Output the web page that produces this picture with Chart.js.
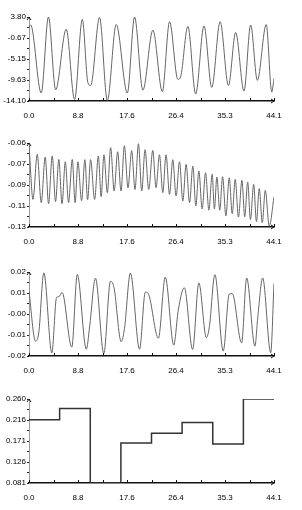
<!DOCTYPE html>
<html lang="en">
<head>
    <meta charset="UTF-8">
    <title>Waveforms</title>
    <script src="https://cdn.jsdelivr.net/npm/chart.js"></script>
    <style>
        body { margin: 0; background: #fff; width: 302px; height: 510px; position: relative; overflow: hidden; }
        .panel { position: absolute; left: 0; width: 302px; height: 125px; }
    </style>
</head>
<body>
    <div class="panel" style="top:0px"><canvas id="c1"></canvas></div>
    <div class="panel" style="top:126px"><canvas id="c2"></canvas></div>
    <div class="panel" style="top:255px"><canvas id="c3"></canvas></div>
    <div class="panel" style="top:382px"><canvas id="c4"></canvas></div>

    <script>
        // shared time axis
        const xLabels = ['0.0', '8.8', '17.6', '26.4', '35.3', '44.1'];
        const xMax = 44.1;

        // panel 1
        const p1Labels = ['3.80', '-0.67', '-5.15', '-9.63', '-14.10'];
        const p1X = [0, 0.3, 2.2, 3.5, 4.8, 6.7, 8.2, 9.6, 10.6, 11.1, 12.7, 14.1, 15.7, 17.7, 19.0, 20.5, 22.3, 24.0, 25.3, 26.8, 27.3, 28.6, 30.0, 31.5, 32.9, 34.4, 35.9, 37.2, 38.7, 39.9, 41.1, 42.7, 43.7, 44.1];
        const p1Y = [1.5, 2.1, -12.4, 3.8, -11.7, 1.2, -13.8, 3.3, -10.2, -10.8, 3.7, -14.0, 2.2, -12.4, 3.8, -11.8, 1.0, -12.1, 2.8, -9.5, -8.9, 1.8, -12.6, 1.9, -11.2, 2.8, -10.8, 0.5, -12.0, 2.1, -9.7, 2.2, -12.2, -9.3];

        // panel 2
        const p2Labels = ['-0.06', '-0.07', '-0.09', '-0.11', '-0.13'];
        const p2PeakX = [0.00, 1.48, 2.92, 4.18, 5.37, 6.53, 7.79, 8.80, 10.06, 11.09, 12.48, 13.49, 14.70, 15.96, 17.17, 18.48, 19.70, 20.89, 22.28, 23.48, 24.67, 25.88, 27.09, 28.28, 29.49, 30.57, 31.78, 32.97, 33.82, 34.85, 36.04, 37.12, 38.33, 39.36, 40.44, 41.45, 42.53];
        const p2PeakY = [-0.0612, -0.0695, -0.0717, -0.0708, -0.0737, -0.0756, -0.0737, -0.0756, -0.0739, -0.0739, -0.0708, -0.0698, -0.0639, -0.0673, -0.0623, -0.0664, -0.0606, -0.0656, -0.0662, -0.0698, -0.0698, -0.0739, -0.0756, -0.0778, -0.0792, -0.0833, -0.0848, -0.0860, -0.0883, -0.0881, -0.0890, -0.0903, -0.0912, -0.0925, -0.0945, -0.0980, -0.0995];
        const p2TroughX = [0.72, 2.20, 3.52, 4.78, 5.95, 7.12, 8.30, 9.47, 10.55, 11.81, 12.99, 14.10, 15.33, 16.56, 17.82, 19.08, 20.29, 21.55, 22.87, 24.08, 25.29, 26.48, 27.69, 28.90, 30.03, 31.17, 32.38, 33.37, 34.33, 35.44, 36.58, 37.70, 38.83, 39.86, 40.94, 41.99, 43.25];
        const p2TroughY = [-0.1070, -0.1097, -0.1106, -0.1089, -0.1106, -0.1097, -0.1097, -0.1081, -0.1072, -0.1070, -0.1047, -0.1014, -0.1000, -0.1000, -0.0973, -0.0987, -0.1000, -0.0987, -0.0973, -0.1014, -0.1028, -0.1042, -0.1083, -0.1097, -0.1125, -0.1150, -0.1160, -0.1150, -0.1160, -0.1208, -0.1189, -0.1217, -0.1215, -0.1237, -0.1256, -0.1264, -0.1293];
        const p2EndX = 44.1;
        const p2EndY = -0.1047;

        // panel 3
        const p3Labels = ['0.02', '0.01', '-0.00', '-0.01', '-0.02'];
        const p3X = [0, 1.17, 1.77, 2.67, 4.11, 4.96, 5.41, 5.95, 7.70, 8.69, 10.32, 10.91, 11.96, 13.47, 14.66, 15.30, 16.59, 17.19, 18.25, 19.90, 20.94, 21.46, 23.29, 24.53, 26.06, 26.87, 27.96, 29.45, 30.57, 31.92, 32.47, 33.46, 34.96, 36.04, 36.58, 38.27, 39.18, 40.67, 41.16, 42.06, 43.51, 44.1];
        const p3Y = [0.0110, -0.0133, -0.0089, 0.0201, -0.0190, 0.0081, 0.0085, 0.0105, -0.0162, 0.0193, -0.0172, -0.0063, 0.0175, -0.0193, 0.0160, 0.0129, -0.0135, -0.0070, 0.0200, -0.0172, 0.0107, 0.0100, -0.0118, 0.0180, -0.0152, 0.0019, 0.0128, -0.0173, 0.0152, -0.0115, -0.0062, 0.0192, -0.0181, 0.0097, 0.0100, -0.0141, 0.0176, -0.0157, -0.0022, 0.0176, -0.0189, 0.0150];

        // panel 4 (step levels, one per bin)
        const p4Labels = ['0.260', '0.216', '0.171', '0.126', '0.081'];
        const p4X = [0, 5.51, 11.03, 16.54, 22.05, 27.56, 33.08, 38.59, 44.1];
        const p4Y = [0.216, 0.240, 0.081, 0.166, 0.187, 0.210, 0.164, 0.260, 0.260];

        const FONT = { family: "'Liberation Sans', Arial, sans-serif", size: 8 };

        function toPoints(xs, ys) {
            return xs.map((x, i) => ({ x: x, y: ys[i] }));
        }

        // ticks at half-label spacing; labels only on every other one
        function halfTicks(min, max, n) {
            const out = [];
            for (let i = 0; i <= n; i++) out.push({ value: min + (max - min) * i / n });
            return out;
        }

        const axisDeco = {
            id: 'axisDeco',
            afterDraw(chart) {
                const ctx = chart.ctx;
                const a = chart.chartArea;
                const xs = chart.scales.x;
                ctx.save();
                ctx.strokeStyle = '#111';
                ctx.lineWidth = 1;
                ctx.beginPath();
                xs.ticks.forEach(t => {
                    const px = Math.round(xs.getPixelForValue(t.value)) + 0.5;
                    ctx.moveTo(px, a.bottom);
                    ctx.lineTo(px, a.bottom - 3);
                });
                // little arrow tips on both axes
                ctx.moveTo(a.right - 3, a.bottom - 2);
                ctx.lineTo(a.right, a.bottom);
                ctx.lineTo(a.right - 3, a.bottom + 2);
                ctx.moveTo(a.left - 2, a.top + 3);
                ctx.lineTo(a.left, a.top);
                ctx.lineTo(a.left + 2, a.top + 3);
                ctx.stroke();
                ctx.restore();
            }
        };

        function makeChart(id, datasets, yMin, yMax, yLabels) {
            const ctx = document.getElementById(id).getContext('2d');
            return new Chart(ctx, {
                type: 'line',
                data: { datasets: datasets },
                options: {
                    responsive: true,
                    maintainAspectRatio: false,
                    animation: false,
                    layout: { padding: { top: 17, right: 28, left: 0, bottom: 0 } },
                    plugins: { legend: { display: false }, tooltip: { enabled: false } },
                    elements: { point: { radius: 0 } },
                    scales: {
                        x: {
                            type: 'linear',
                            min: 0,
                            max: xMax,
                            afterBuildTicks: s => { s.ticks = halfTicks(0, xMax, 10); },
                            afterFit: s => { s.height = 24; },
                            grid: { display: false },
                            border: { display: true, color: '#111', width: 1.5 },
                            ticks: {
                                autoSkip: false,
                                maxRotation: 0,
                                padding: 2,
                                color: '#000',
                                font: FONT,
                                callback: (v, i) => i % 2 === 0 ? xLabels[i / 2] : ''
                            }
                        },
                        y: {
                            min: yMin,
                            max: yMax,
                            afterBuildTicks: s => { s.ticks = halfTicks(yMin, yMax, 8); },
                            afterFit: s => { s.width = 29; },
                            grid: { drawOnChartArea: false, drawTicks: true, tickLength: 2, color: '#222' },
                            border: { display: true, color: '#999', width: 1 },
                            ticks: {
                                autoSkip: false,
                                padding: 1,
                                color: '#000',
                                font: FONT,
                                callback: (v, i) => i % 2 === 0 ? yLabels[4 - i / 2] : ''
                            }
                        }
                    }
                },
                plugins: [axisDeco]
            });
        }

        // panel 2 data: interleave peaks and troughs in time order
        const p2Pts = [];
        p2PeakX.forEach((x, i) => {
            p2Pts.push({ x: x, y: p2PeakY[i] });
            if (i < p2TroughX.length) p2Pts.push({ x: p2TroughX[i], y: p2TroughY[i] });
        });
        p2Pts.push({ x: p2EndX, y: p2EndY });

        makeChart('c1', [{
            data: toPoints(p1X, p1Y), borderColor: '#666', borderWidth: 1, cubicInterpolationMode: 'monotone'
        }], -14.10, 3.80, p1Labels);

        makeChart('c2', [{
            data: p2Pts, borderColor: '#666', borderWidth: 1, cubicInterpolationMode: 'monotone'
        }], -0.13, -0.06, p2Labels);

        makeChart('c3', [{
            data: toPoints(p3X, p3Y), borderColor: '#666', borderWidth: 1, cubicInterpolationMode: 'monotone'
        }], -0.0205, 0.0205, p3Labels);

        makeChart('c4', [{
            data: toPoints(p4X, p4Y), borderColor: '#333', borderWidth: 1.5, stepped: 'before'
        }], 0.081, 0.260, p4Labels);
    </script>
</body>
</html>
